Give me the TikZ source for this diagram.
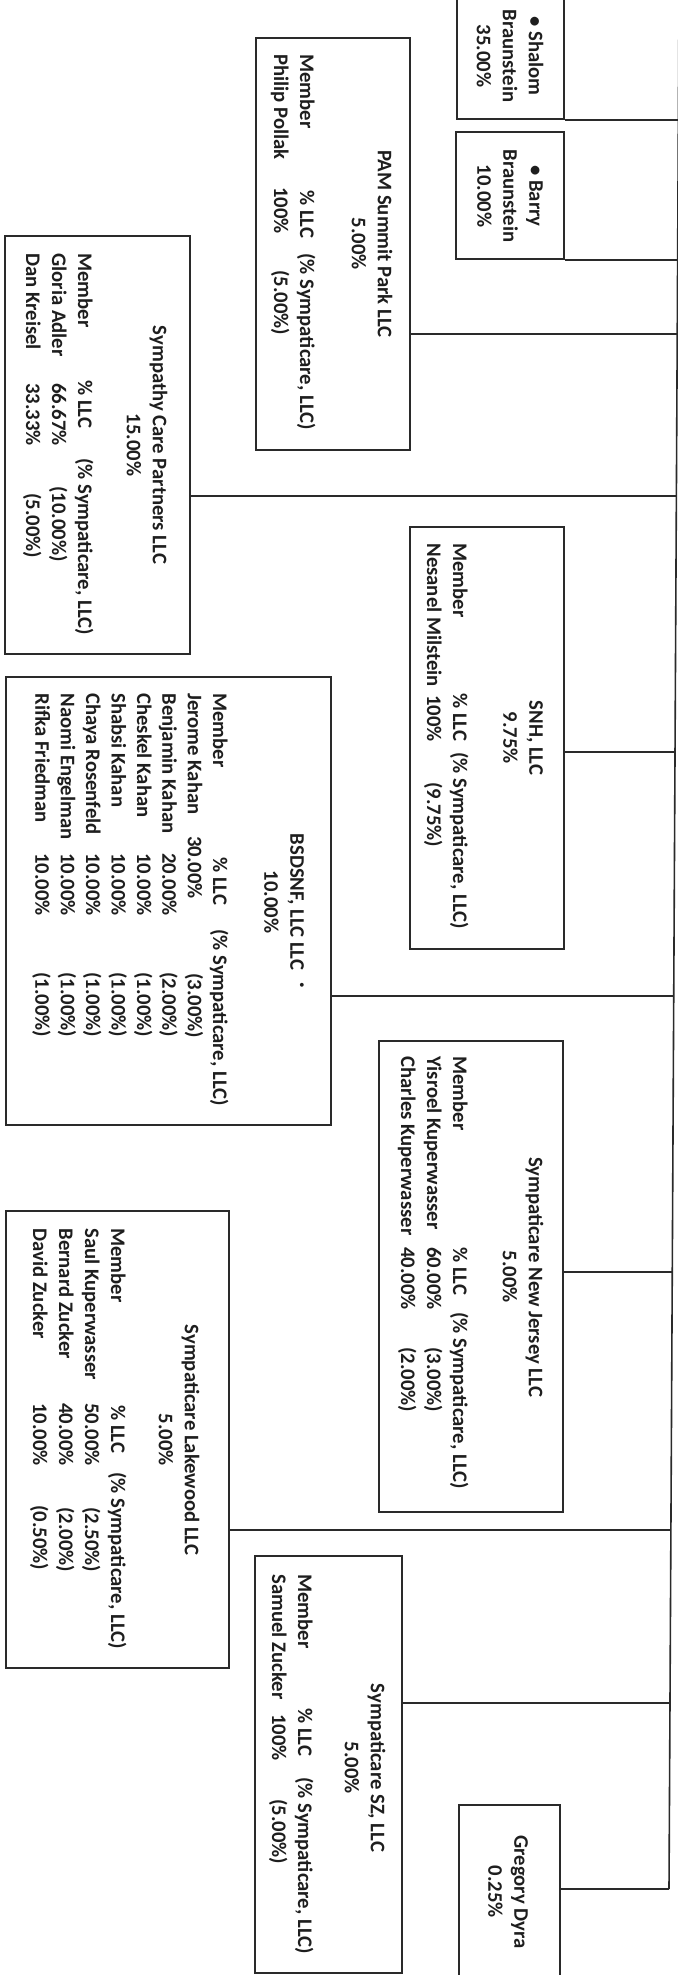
\documentclass[tikz,border=0pt]{standalone}
\usepackage{fontspec}
\setmainfont{Carlito}
\usetikzlibrary{calc,fit}
\definecolor{ink}{HTML}{1E1E1E}
\definecolor{rule}{HTML}{2A2A2A}
\newcounter{tnum}
\newcommand\lt[3]{\stepcounter{tnum}\node[txt,anchor=mid west] (t\arabic{tnum}) at (#1,#2) {#3};}
\newcommand\rowc[7]{\lt{#1}{#2}{#3}\lt{#1}{#4}{#5}\lt{#1}{#6}{#7}}
\begin{document}
\begin{tikzpicture}[x=0.5pt,y=-0.5pt,
  boxn/.style={draw=rule, line width=1pt, inner sep=0pt},
  conn/.style={draw=rule, line width=0.8pt},
  txt/.style={rotate=-90, inner sep=0pt, text=ink,
    font=\fontsize{10.35}{13}\selectfont\bfseries},
  ttl/.style={txt, align=center, anchor=center}]
\useasboundingbox (0,0) rectangle (678,1975);
\fill[white] (0,0) rectangle (678,1975);
\clip (0,0) rectangle (678,1975);

% ---------- boxes ----------
\node[boxn, fit={(457,-5) (564,119)}] (shalom) {};
\node[boxn, fit={(456,132) (564,259)}] (barry) {};
\node[boxn, fit={(256,38) (410,450)}] (pam) {};
\node[boxn, fit={(5,236) (190,654)}] (scp) {};
\node[boxn, fit={(410,527) (564,949)}] (snh) {};
\node[boxn, fit={(6,677) (331,1125)}] (bsd) {};
\node[boxn, fit={(379,1041) (563,1512)}] (snj) {};
\node[boxn, fit={(6,1211) (229,1668)}] (lkw) {};
\node[boxn, fit={(255,1556) (402,1973)}] (ssz) {};
\node[boxn, fit={(459,1805) (560,1985)}] (gd) {};

% ---------- trunk and connectors ----------
\coordinate (ttop) at (679,0);
\coordinate (tbot) at (669,1889);
\coordinate (j1) at ($(ttop)!0.0635!(tbot)$);
\coordinate (j2) at ($(ttop)!0.1376!(tbot)$);
\coordinate (j3) at ($(ttop)!0.1768!(tbot)$);
\coordinate (j4) at ($(ttop)!0.2626!(tbot)$);
\coordinate (j5) at ($(ttop)!0.3981!(tbot)$);
\coordinate (j6) at ($(ttop)!0.5273!(tbot)$);
\coordinate (j7) at ($(ttop)!0.6734!(tbot)$);
\coordinate (j8) at ($(ttop)!0.8100!(tbot)$);
\coordinate (j9) at ($(ttop)!0.9015!(tbot)$);
\draw[conn] (ttop) -- (tbot);
\draw[conn] (shalom.east |- j1) -- (j1);
\draw[conn] (barry.east |- j2) -- (j2);
\draw[conn] (pam.east |- j3) -- (j3);
\draw[conn] (scp.east |- j4) -- (j4);
\draw[conn] (snh.east |- j5) -- (j5);
\draw[conn] (bsd.east |- j6) -- (j6);
\draw[conn] (snj.east |- j7) -- (j7);
\draw[conn] (lkw.east |- j8) -- (j8);
\draw[conn] (ssz.east |- j9) -- (j9);
\draw[conn] (gd.east |- tbot) -- (tbot);

% ---------- texts ----------
\node[ttl] (tsh) at (510,56) {• Shalom\\Braunstein\\35.00\%};
\node[ttl] (tba) at (510,196) {• Barry\\Braunstein\\10.00\%};

\node[ttl] (tpam) at (372,244) {PAM Summit Park LLC\\5.00\%};
\rowc{305}{54}{Member}{190}{\% LLC}{253}{(\% Sympaticare, LLC)}
\rowc{279}{54}{Philip Pollak}{187}{100\%}{270}{(5.00\%)}

\node[ttl] (tscp) at (147,445) {Sympathy Care Partners LLC\\15.00\%};
\rowc{83}{253}{Member}{380}{\% LLC}{458}{(\% Sympaticare, LLC)}
\rowc{57}{253}{Gloria Adler}{383}{66.67\%}{486}{(10.00\%)}
\rowc{31}{253}{Dan Kreisel}{383}{33.33\%}{493}{(5.00\%)}

\node[ttl] (tsnh) at (523,738) {SNH, LLC\\9.75\%};
\rowc{458}{543}{Member}{693}{\% LLC}{752}{(\% Sympaticare, LLC)}
\rowc{432}{543}{Nesanel Milstein}{695}{100\%}{782}{(9.75\%)}

\node[ttl] (tbsd) at (284,902) {BSDSNF, LLC LLC\\10.00\%};
\node[txt] (tdot) at (300,985) {·};
\rowc{218}{693}{Member}{857}{\% LLC}{929}{(\% Sympaticare, LLC)}
\rowc{192.6}{693}{Jerome Kahan}{836}{30.00\%}{973}{(3.00\%)}
\rowc{167.2}{693}{Benjamin Kahan}{853}{20.00\%}{972}{(2.00\%)}
\rowc{141.8}{693}{Cheskel Kahan}{853}{10.00\%}{972}{(1.00\%)}
\rowc{116.4}{693}{Shabsi Kahan}{853}{10.00\%}{972}{(1.00\%)}
\rowc{91}{693}{Chaya Rosenfeld}{853}{10.00\%}{972}{(1.00\%)}
\rowc{65.6}{693}{Naomi Engelman}{853}{10.00\%}{972}{(1.00\%)}
\rowc{40.2}{693}{Rifka Friedman}{853}{10.00\%}{972}{(1.00\%)}

\node[ttl] (tsnj) at (523,1277) {Sympaticare New Jersey LLC\\5.00\%};
\rowc{458}{1056}{Member}{1247}{\% LLC}{1312}{(\% Sympaticare, LLC)}
\rowc{432}{1056}{Yisroel Kuperwasser}{1247}{60.00\%}{1347}{(3.00\%)}
\rowc{406}{1056}{Charles Kuperwasser}{1247}{40.00\%}{1347}{(2.00\%)}

\node[ttl] (tlkw) at (179,1440) {Sympaticare Lakewood LLC\\5.00\%};
\rowc{116}{1228}{Member}{1405}{\% LLC}{1472}{(\% Sympaticare, LLC)}
\rowc{90}{1228}{Saul Kuperwasser}{1403}{50.00\%}{1507}{(2.50\%)}
\rowc{64}{1228}{Bernard Zucker}{1403}{40.00\%}{1507}{(2.00\%)}
\rowc{38}{1228}{David Zucker}{1403}{10.00\%}{1505}{(0.50\%)}

\node[ttl] (tssz) at (365,1768) {Sympaticare SZ, LLC\\5.00\%};
\rowc{303}{1574}{Member}{1708}{\% LLC}{1777}{(\% Sympaticare, LLC)}
\rowc{277}{1574}{Samuel Zucker}{1714}{100\%}{1799}{(5.00\%)}

\node[ttl] (tgd) at (508,1892) {Gregory Dyra\\0.25\%};
\end{tikzpicture}
\end{document}
